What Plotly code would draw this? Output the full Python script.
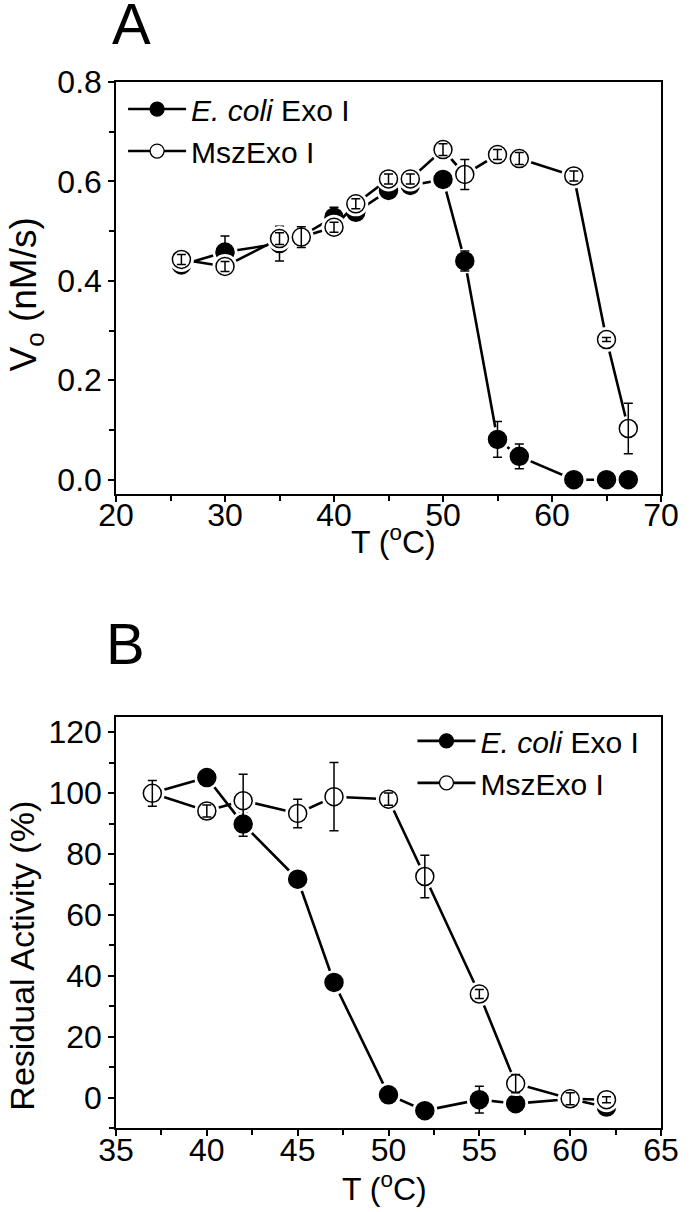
import plotly.graph_objects as go

# ---------------- Data ----------------
temp_a = [26, 30, 35, 37, 40, 42, 45, 47, 50, 52, 55, 57, 62, 65, 67]
ecoli_a = [0.432, 0.458, 0.475, 0.490, 0.528, 0.538, 0.582, 0.592, 0.604, 0.440, 0.081, 0.047, 0.0, 0.0, 0.0]
ecoli_a_err = [0.008, 0.032, 0.035, 0.010, 0.020, 0.010, 0.010, 0.010, 0.010, 0.020, 0.036, 0.025, 0.0, 0.0, 0.0]
msz_a = [0.443, 0.429, 0.485, 0.488, 0.508, 0.555, 0.605, 0.605, 0.664, 0.614, 0.654, 0.646, 0.611, 0.282, 0.103]
msz_a_err = [0.010, 0.010, 0.012, 0.021, 0.010, 0.010, 0.010, 0.010, 0.012, 0.030, 0.010, 0.012, 0.010, 0.004, 0.051]

temp_b = [37, 40, 42, 45, 47, 50, 52, 55, 57, 60, 62]
ecoli_b = [100.0, 105.1, 89.8, 71.7, 37.8, 0.9, -4.3, -0.7, -2.0, -0.5, -3.1]
ecoli_b_err = [3.0, 1.0, 4.0, 1.0, 1.0, 1.0, 1.0, 4.4, 1.0, 1.0, 1.0]
msz_b = [99.9, 94.1, 97.5, 93.3, 98.8, 98.0, 72.6, 34.0, 4.6, -0.4, -0.7]
msz_b_err = [4.2, 2.0, 8.7, 4.7, 11.2, 2.0, 7.0, 1.5, 3.0, 2.0, 1.0]

name_ecoli = "<i>E. coli</i> Exo I"
name_msz = "MszExo I"

FONT = "Liberation Sans, Arial, sans-serif"
TICK_FS = 32
LEG_FS = 30
TITLE_FS = 32
YTITLE_FS = 34

fig = go.Figure()


def add_series(xa, ya, x, y, err, filled):
    fill = "black" if filled else "white"
    fig.add_trace(go.Scatter(x=x, y=y, xaxis=xa, yaxis=ya, mode="lines",
                             line=dict(color="black", width=2.6), showlegend=False,
                             hoverinfo="skip"))
    fig.add_trace(go.Scatter(x=x, y=y, xaxis=xa, yaxis=ya, mode="markers",
                             marker=dict(size=25, color="white", line=dict(width=0)),
                             showlegend=False, hoverinfo="skip"))
    fig.add_trace(go.Scatter(x=x, y=y, xaxis=xa, yaxis=ya, mode="markers",
                             marker=dict(size=18, color=fill, line=dict(color="black", width=1.5)),
                             showlegend=False))
    fig.add_trace(go.Scatter(x=x, y=y, xaxis=xa, yaxis=ya, mode="markers",
                             marker=dict(size=1, color="rgba(0,0,0,0)"),
                             error_y=dict(type="data", array=err, visible=True, color="black",
                                          thickness=1.5, width=4.5),
                             showlegend=False, hoverinfo="skip"))


def add_legend(xa, ya, legend, filled, name):
    fill = "black" if filled else "white"
    fig.add_trace(go.Scatter(x=[None], y=[None], xaxis=xa, yaxis=ya, mode="lines+markers",
                             name=name, legend=legend,
                             line=dict(color="black", width=2.6),
                             marker=dict(size=14, color=fill, line=dict(color="black", width=1.3))))


add_series("x", "y", temp_a, ecoli_a, ecoli_a_err, True)
add_series("x", "y", temp_a, msz_a, msz_a_err, False)
add_series("x2", "y2", temp_b, ecoli_b, ecoli_b_err, True)
add_series("x2", "y2", temp_b, msz_b, msz_b_err, False)

add_legend("x", "y", "legend", True, name_ecoli)
add_legend("x", "y", "legend", False, name_msz)
add_legend("x2", "y2", "legend2", True, name_ecoli)
add_legend("x2", "y2", "legend2", False, name_msz)

axis_common = dict(showline=True, linecolor="black", linewidth=1.5, mirror=True,
                   ticks="outside", ticklen=6, tickwidth=1.5, tickcolor="black",
                   showgrid=False, zeroline=False, ticklabeloverflow="allow",
                   tickfont=dict(family=FONT, size=TICK_FS, color="black"))
minor_common = dict(ticks="outside", ticklen=5, tickwidth=1.5, tickcolor="black")

fig.update_layout(
    width=691, height=1212,
    paper_bgcolor="white", plot_bgcolor="white",
    margin=dict(l=116, r=16, t=82, b=84),
    font=dict(family=FONT, size=TICK_FS, color="black"),
    xaxis=dict(domain=[0, 1], anchor="y", range=[20, 70], tick0=20, dtick=10,
               ticklabelstandoff=-14,
               minor=dict(dtick=5, **minor_common), **axis_common),
    yaxis=dict(domain=[0.606, 1], anchor="x", range=[-0.029, 0.8], tick0=0, dtick=0.2,
               tickformat=".1f", minor=dict(dtick=0.1, **minor_common), **axis_common),
    xaxis2=dict(domain=[0, 1], anchor="y2", range=[35, 65], tick0=35, dtick=5,
                ticklabelstandoff=-13,
                minor=dict(dtick=2.5, **minor_common), **axis_common),
    yaxis2=dict(domain=[0, 0.393], anchor="x2", range=[-10, 125], tick0=0, dtick=20,
                minor=dict(dtick=10, **minor_common), **axis_common),
    legend=dict(x=0.013, y=0.999, xanchor="left", yanchor="top", bgcolor="rgba(0,0,0,0)",
                font=dict(family=FONT, size=LEG_FS, color="black"), itemwidth=58,
                tracegroupgap=0),
    legend2=dict(x=0.544, y=0.395, xanchor="left", yanchor="top", bgcolor="rgba(0,0,0,0)",
                 font=dict(family=FONT, size=LEG_FS, color="black"), itemwidth=58,
                 tracegroupgap=0),
    showlegend=True,
)

annotations = [
    dict(text="A", x=0.029, y=1.056, xref="paper", yref="paper", showarrow=False,
         height=46, valign="middle",
         font=dict(family=FONT, size=58, color="black"), xanchor="center", yanchor="middle"),
    dict(text="B", x=0.018, y=0.4635, xref="paper", yref="paper", showarrow=False,
         height=46, valign="middle",
         font=dict(family=FONT, size=58, color="black"), xanchor="center", yanchor="middle"),
    dict(text="V<sub>o</sub> (nM/s)", x=-0.165, y=0.797, xref="paper", yref="paper",
         showarrow=False, textangle=-90, font=dict(family=FONT, size=37, color="black"),
         xanchor="center", yanchor="middle"),
    dict(text="Residual Activity (%)", x=-0.172, y=0.165, xref="paper", yref="paper",
         showarrow=False, textangle=-90, font=dict(family=FONT, size=YTITLE_FS, color="black"),
         xanchor="center", yanchor="middle"),
    dict(text="T (<sup>o</sup>C)", x=0.509, y=0.562, xref="paper", yref="paper",
         showarrow=False, font=dict(family=FONT, size=TITLE_FS, color="black"),
         xanchor="center", yanchor="middle"),
    dict(text="T (<sup>o</sup>C)", x=0.492, y=-0.056, xref="paper", yref="paper",
         showarrow=False, font=dict(family=FONT, size=TITLE_FS, color="black"),
         xanchor="center", yanchor="middle"),
]
fig.update_layout(annotations=annotations)

fig.write_html("out.html", config={"displayModeBar": False},
               post_script="document.body.style.margin='0px';")
